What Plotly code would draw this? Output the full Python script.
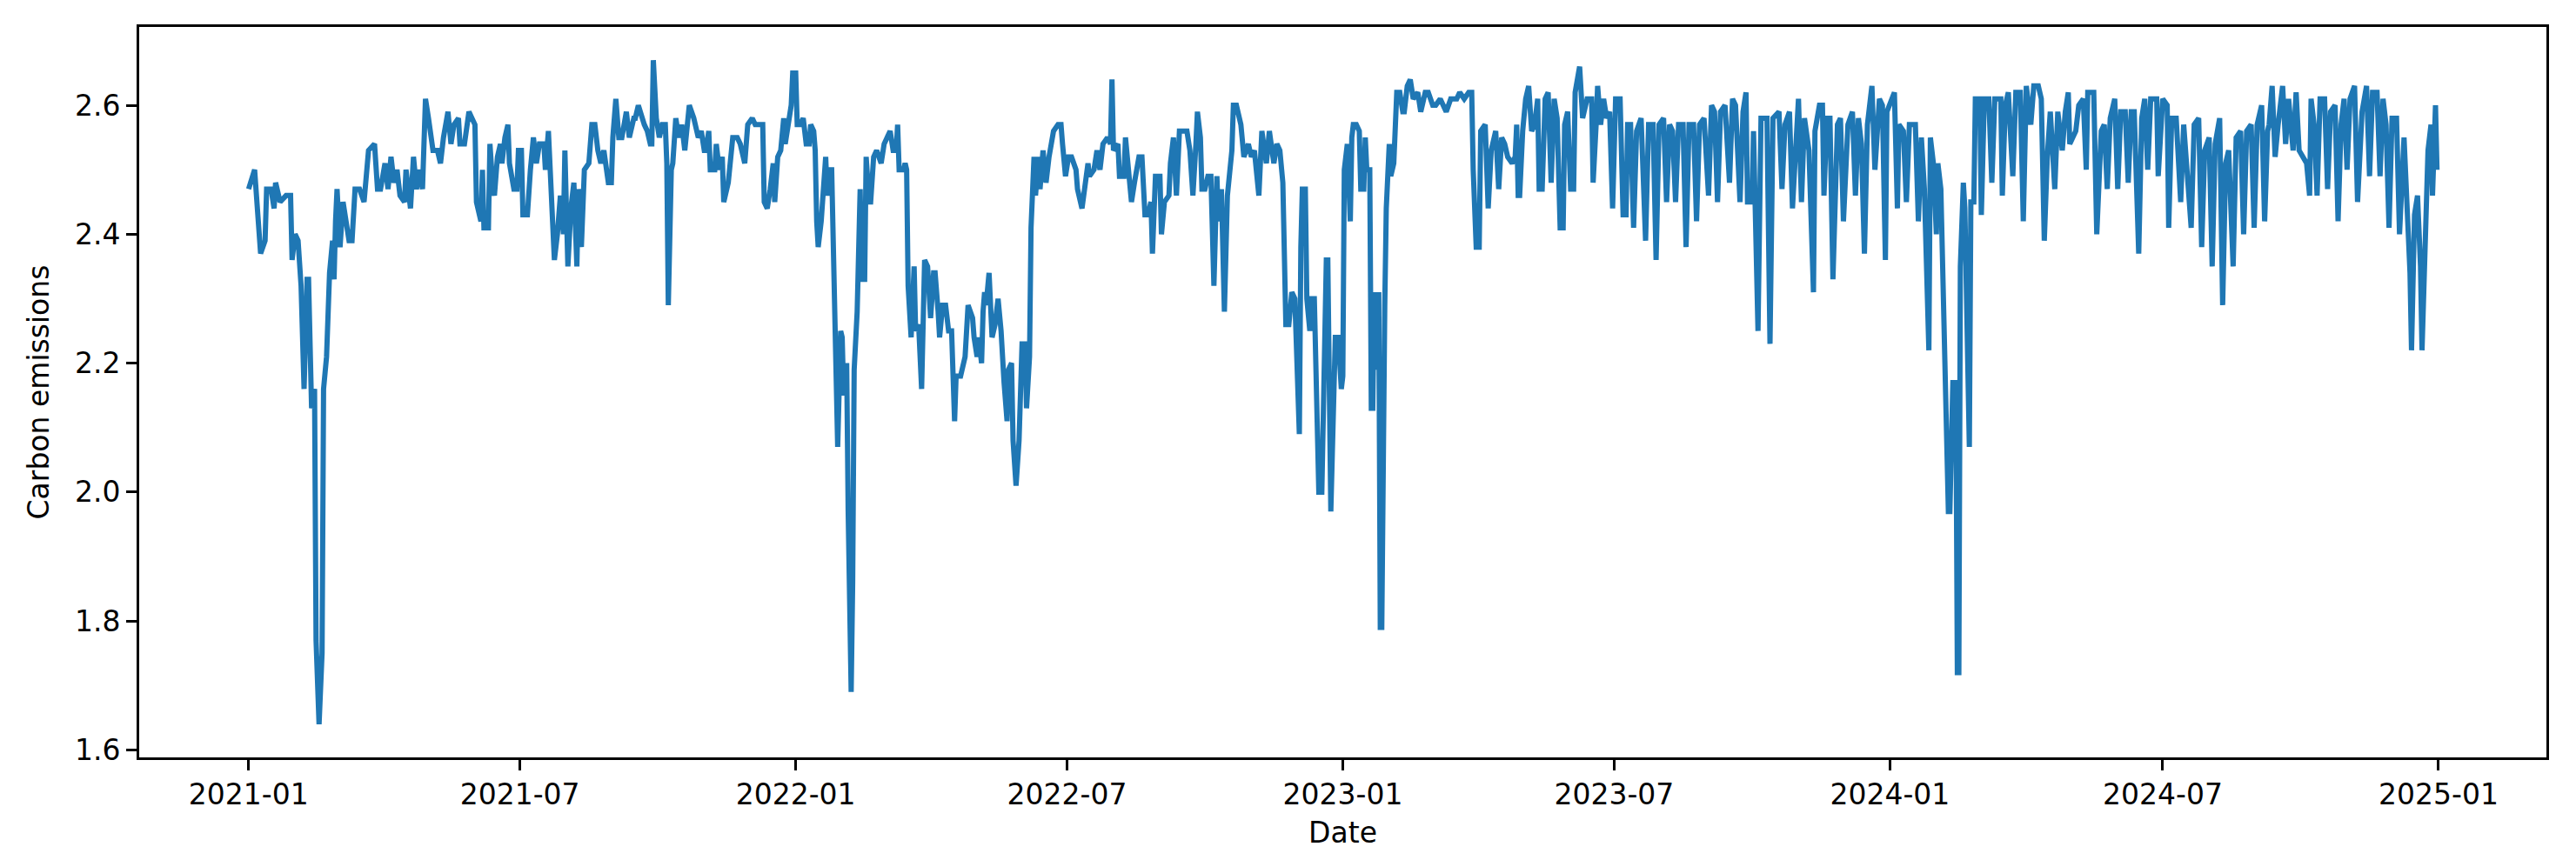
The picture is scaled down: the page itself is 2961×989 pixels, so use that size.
import pandas as pd
import plotly.graph_objects as go

START = "2021-01-01"

# Daily carbon emissions at its turning points.
# day_* = days since START, co2_* = value on that day.
day_2021h1 = [0, 4, 8, 11, 12, 15, 17, 18, 21, 25, 28, 29, 31, 33, 35, 37, 39, 40, 42, 44,
              45, 47, 49, 50, 52, 54, 56, 57, 58, 59, 61, 63, 65, 67, 69, 71, 74, 77, 80, 83,
              84, 86, 88, 91, 93, 95, 97, 99, 101, 104, 105, 108, 110, 112, 114, 116, 118, 120, 123, 126,
              128, 130, 133, 135, 137, 140, 141, 144, 147, 149, 151, 152, 155, 156, 157, 160, 161, 163, 164, 166,
              168, 169, 171, 173, 174, 177, 179, 180, 182, 183]
co2_2021h1 = [2.47, 2.50, 2.37, 2.39, 2.47, 2.47, 2.44, 2.48, 2.45, 2.46, 2.46, 2.36, 2.40, 2.39, 2.32, 2.16, 2.33, 2.33, 2.13, 2.16,
              1.77, 1.64, 1.75, 2.16, 2.21, 2.34, 2.39, 2.33, 2.42, 2.47, 2.38, 2.45, 2.42, 2.39, 2.39, 2.47, 2.47, 2.45, 2.53, 2.54,
              2.54, 2.47, 2.47, 2.51, 2.47, 2.52, 2.48, 2.50, 2.46, 2.45, 2.50, 2.44, 2.52, 2.47, 2.50, 2.47, 2.61, 2.58, 2.53, 2.53,
              2.51, 2.55, 2.59, 2.54, 2.57, 2.58, 2.54, 2.54, 2.59, 2.58, 2.57, 2.45, 2.42, 2.50, 2.41, 2.41, 2.54, 2.47, 2.46, 2.52,
              2.54, 2.51, 2.55, 2.57, 2.51, 2.47, 2.47, 2.53, 2.53, 2.43]

day_2021h2 = [184, 186, 188, 190, 192, 194, 197, 198, 200, 201, 202, 204, 206, 208, 210, 211, 213, 215, 217, 219,
              220, 222, 224, 227, 229, 231, 233, 235, 237, 240, 242, 243, 245, 247, 249, 252, 254, 257, 258, 260,
              264, 266, 268, 269, 270, 272, 274, 276, 278, 279, 280, 282, 283, 285, 287, 289, 291, 293, 294, 297,
              300, 302, 304, 305, 307, 308, 311, 312, 314, 316, 317, 320, 321, 323, 326, 328, 330, 331, 333, 336,
              338, 341, 343, 344, 346, 348, 350, 351, 353, 355, 357, 358, 360, 362, 363, 365]
co2_2021h2 = [2.43, 2.43, 2.50, 2.55, 2.51, 2.54, 2.54, 2.50, 2.56, 2.50, 2.46, 2.36, 2.40, 2.46, 2.40, 2.53, 2.35, 2.44, 2.48, 2.35,
              2.47, 2.38, 2.50, 2.51, 2.57, 2.57, 2.53, 2.51, 2.53, 2.48, 2.48, 2.55, 2.61, 2.55, 2.55, 2.59, 2.55, 2.58, 2.58, 2.60,
              2.57, 2.56, 2.54, 2.54, 2.67, 2.58, 2.55, 2.57, 2.57, 2.51, 2.29, 2.50, 2.51, 2.58, 2.55, 2.57, 2.53, 2.57, 2.60, 2.58,
              2.55, 2.56, 2.53, 2.53, 2.56, 2.50, 2.50, 2.54, 2.50, 2.52, 2.45, 2.48, 2.50, 2.55, 2.55, 2.54, 2.52, 2.51, 2.57, 2.58,
              2.57, 2.57, 2.57, 2.45, 2.44, 2.47, 2.51, 2.45, 2.52, 2.53, 2.58, 2.54, 2.57, 2.60, 2.65, 2.65]

day_2022h1 = [366, 368, 370, 372, 374, 375, 377, 378, 379, 380, 382, 384, 385, 386, 388, 389, 391, 393, 395, 396,
              397, 399, 400, 402, 403, 404, 406, 408, 409, 411, 412, 414, 415, 417, 419, 422, 424, 428, 430, 432,
              433, 434, 437, 438, 439, 440, 442, 444, 445, 447, 449, 451, 453, 455, 457, 458, 460, 461, 463, 465,
              467, 469, 471, 472, 475, 478, 480, 483, 484, 486, 487, 489, 490, 491, 492, 494, 496, 498, 500, 502,
              504, 506, 507, 509, 510, 512, 514, 516, 518, 519, 521, 522, 524, 525, 527, 528, 530, 532, 534, 537,
              540, 542, 543, 545, 547]
co2_2022h1 = [2.57, 2.57, 2.58, 2.54, 2.54, 2.57, 2.56, 2.53, 2.42, 2.38, 2.42, 2.51, 2.52, 2.46, 2.50, 2.50, 2.24, 2.07, 2.25, 2.24,
              2.15, 2.20, 1.97, 1.69, 1.86, 2.19, 2.28, 2.47, 2.33, 2.33, 2.52, 2.45, 2.45, 2.52, 2.53, 2.51, 2.54, 2.56, 2.53, 2.53,
              2.57, 2.50, 2.50, 2.51, 2.50, 2.32, 2.24, 2.35, 2.25, 2.26, 2.16, 2.36, 2.35, 2.27, 2.34, 2.34, 2.28, 2.24, 2.29, 2.29,
              2.25, 2.25, 2.11, 2.18, 2.18, 2.21, 2.29, 2.27, 2.24, 2.21, 2.24, 2.20, 2.28, 2.31, 2.29, 2.34, 2.24, 2.26, 2.30, 2.25,
              2.17, 2.11, 2.19, 2.20, 2.08, 2.01, 2.08, 2.23, 2.23, 2.13, 2.21, 2.41, 2.52, 2.46, 2.52, 2.47, 2.53, 2.48, 2.52, 2.56,
              2.57, 2.57, 2.54, 2.49, 2.52]

day_2022h2 = [549, 552, 553, 556, 558, 560, 561, 564, 566, 568, 570, 573, 575, 576, 577, 580, 581, 584, 585, 587,
              588, 589, 591, 594, 596, 598, 600, 602, 603, 605, 608, 609, 611, 614, 615, 617, 619, 621, 623, 626,
              628, 630, 632, 633, 635, 636, 638, 640, 642, 644, 646, 647, 649, 651, 653, 656, 657, 659, 662, 664,
              667, 669, 671, 674, 676, 679, 681, 684, 686, 688, 690, 692, 694, 696, 698, 700, 701, 702, 703, 705,
              706, 708, 709, 711, 712, 714, 716, 718, 719, 720, 721, 722, 723, 725, 727, 729, 730, 731, 733, 735,
              736, 737]
co2_2022h2 = [2.52, 2.50, 2.47, 2.44, 2.47, 2.51, 2.49, 2.50, 2.53, 2.50, 2.54, 2.55, 2.54, 2.64, 2.53, 2.54, 2.49, 2.49, 2.55, 2.50,
              2.49, 2.45, 2.48, 2.52, 2.52, 2.43, 2.43, 2.45, 2.37, 2.49, 2.49, 2.40, 2.45, 2.46, 2.51, 2.55, 2.46, 2.56, 2.56, 2.56,
              2.53, 2.46, 2.54, 2.59, 2.55, 2.47, 2.47, 2.49, 2.49, 2.32, 2.49, 2.42, 2.47, 2.28, 2.46, 2.53, 2.60, 2.60, 2.57, 2.52,
              2.54, 2.52, 2.53, 2.46, 2.56, 2.51, 2.56, 2.51, 2.54, 2.53, 2.48, 2.26, 2.26, 2.31, 2.30, 2.15, 2.09, 2.38, 2.47, 2.47,
              2.30, 2.25, 2.30, 2.30, 2.21, 2.00, 2.00, 2.21, 2.36, 2.36, 2.08, 1.97, 2.06, 2.24, 2.24, 2.16, 2.18, 2.50, 2.54, 2.42,
              2.55, 2.57]

day_2023h1 = [739, 741, 742, 744, 745, 746, 748, 749, 750, 751, 753, 754, 755, 756, 758, 759, 761, 762, 764, 766,
              768, 770, 771, 773, 775, 777, 780, 782, 785, 787, 790, 792, 795, 799, 802, 806, 808, 811, 814, 816,
              817, 819, 821, 822, 825, 827, 829, 832, 834, 836, 838, 840, 843, 845, 846, 847, 848, 850, 852, 854,
              856, 858, 860, 861, 863, 865, 867, 869, 871, 873, 875, 877, 878, 880, 882, 884, 885, 887, 888, 890,
              893, 896, 897, 899, 900, 902, 904, 906, 908, 910, 912, 915, 917, 919, 920, 922]
co2_2023h1 = [2.57, 2.56, 2.47, 2.47, 2.55, 2.50, 2.50, 2.13, 2.13, 2.31, 2.19, 2.31, 1.79, 1.79, 2.29, 2.44, 2.54, 2.49, 2.51, 2.62,
              2.62, 2.59, 2.59, 2.63, 2.64, 2.61, 2.62, 2.59, 2.62, 2.62, 2.60, 2.60, 2.61, 2.59, 2.61, 2.61, 2.62, 2.61, 2.62, 2.62,
              2.50, 2.38, 2.38, 2.56, 2.57, 2.44, 2.53, 2.56, 2.47, 2.55, 2.54, 2.52, 2.51, 2.52, 2.57, 2.46, 2.46, 2.56, 2.61, 2.63,
              2.56, 2.57, 2.61, 2.47, 2.47, 2.61, 2.62, 2.48, 2.61, 2.58, 2.41, 2.41, 2.57, 2.59, 2.47, 2.47, 2.62, 2.65, 2.66, 2.58,
              2.61, 2.61, 2.48, 2.57, 2.63, 2.57, 2.61, 2.58, 2.59, 2.44, 2.61, 2.61, 2.43, 2.43, 2.57, 2.57]

day_2023h2 = [924, 926, 929, 932, 933, 934, 937, 939, 941, 944, 946, 948, 950, 952, 954, 957, 959, 961, 964, 966,
              968, 971, 974, 976, 978, 980, 982, 985, 988, 990, 992, 995, 997, 999, 1000, 1003, 1004, 1007, 1009, 1011,
              1013, 1015, 1017, 1021, 1023, 1025, 1028, 1030, 1033, 1034, 1036, 1038, 1041, 1044, 1045, 1048, 1050, 1051, 1053, 1055,
              1057, 1060, 1062, 1064, 1067, 1070, 1072, 1074, 1076, 1078, 1080, 1083, 1085, 1088, 1090, 1092, 1093, 1098, 1100, 1101,
              1104, 1106, 1108]
co2_2023h2 = [2.41, 2.56, 2.58, 2.39, 2.50, 2.57, 2.57, 2.36, 2.57, 2.58, 2.45, 2.57, 2.56, 2.45, 2.57, 2.57, 2.38, 2.57, 2.57, 2.42,
              2.57, 2.58, 2.46, 2.60, 2.59, 2.45, 2.59, 2.60, 2.48, 2.61, 2.60, 2.45, 2.59, 2.62, 2.45, 2.45, 2.56, 2.25, 2.58, 2.58,
              2.58, 2.23, 2.58, 2.59, 2.47, 2.57, 2.59, 2.44, 2.59, 2.61, 2.45, 2.58, 2.53, 2.31, 2.56, 2.60, 2.60, 2.46, 2.58, 2.58,
              2.33, 2.57, 2.58, 2.42, 2.57, 2.59, 2.46, 2.58, 2.54, 2.37, 2.57, 2.63, 2.50, 2.61, 2.60, 2.36, 2.59, 2.62, 2.44, 2.57,
              2.56, 2.45, 2.57]

day_2024h1 = [1112, 1114, 1116, 1118, 1121, 1122, 1124, 1126, 1127, 1129, 1132, 1134, 1135, 1137, 1139, 1140, 1141, 1142, 1144, 1145,
              1148, 1149, 1151, 1152, 1155, 1156, 1158, 1161, 1163, 1165, 1169, 1170, 1172, 1174, 1177, 1179, 1182, 1184, 1186, 1189,
              1191, 1194, 1196, 1198, 1200, 1202, 1205, 1207, 1210, 1212, 1214, 1215, 1219, 1221, 1224, 1226, 1227, 1231, 1233, 1236,
              1238, 1240, 1242, 1245, 1247, 1249, 1252, 1254, 1256, 1258, 1261, 1263, 1265, 1267, 1269, 1273, 1274, 1277, 1280, 1281,
              1283, 1286, 1289]
co2_2024h1 = [2.57, 2.42, 2.55, 2.47, 2.22, 2.55, 2.51, 2.40, 2.51, 2.47, 2.13, 1.97, 1.97, 2.17, 2.17, 1.72, 1.72, 2.35, 2.48, 2.44,
              2.07, 2.45, 2.45, 2.61, 2.61, 2.43, 2.61, 2.61, 2.48, 2.61, 2.61, 2.46, 2.60, 2.62, 2.49, 2.62, 2.62, 2.42, 2.63, 2.57,
              2.63, 2.63, 2.61, 2.39, 2.52, 2.59, 2.47, 2.59, 2.53, 2.59, 2.62, 2.54, 2.56, 2.60, 2.61, 2.50, 2.62, 2.62, 2.40, 2.56,
              2.57, 2.47, 2.58, 2.61, 2.47, 2.59, 2.59, 2.48, 2.59, 2.59, 2.37, 2.58, 2.61, 2.50, 2.61, 2.61, 2.49, 2.61, 2.60, 2.41,
              2.58, 2.58, 2.45]

day_2024h2 = [1291, 1296, 1298, 1301, 1303, 1305, 1308, 1310, 1312, 1315, 1317, 1319, 1321, 1324, 1326, 1329, 1331, 1333, 1336, 1338,
              1340, 1343, 1345, 1347, 1348, 1350, 1352, 1354, 1357, 1359, 1361, 1364, 1366, 1368, 1371, 1373, 1375, 1376, 1378, 1380,
              1382, 1385, 1387, 1389, 1392, 1394, 1396, 1398, 1400, 1402, 1405, 1407, 1410, 1413, 1415, 1417, 1420, 1422, 1424, 1426,
              1428, 1430, 1433, 1435, 1438, 1440, 1442, 1443, 1445, 1447, 1449, 1450, 1452, 1454, 1456, 1457, 1459, 1460]
co2_2024h2 = [2.57, 2.41, 2.57, 2.58, 2.38, 2.53, 2.55, 2.35, 2.54, 2.58, 2.29, 2.51, 2.53, 2.35, 2.55, 2.56, 2.40, 2.56, 2.57, 2.41,
              2.57, 2.60, 2.42, 2.56, 2.57, 2.63, 2.52, 2.57, 2.63, 2.54, 2.61, 2.53, 2.62, 2.53, 2.52, 2.51, 2.46, 2.61, 2.57, 2.46,
              2.61, 2.61, 2.47, 2.59, 2.60, 2.42, 2.57, 2.61, 2.50, 2.61, 2.63, 2.45, 2.59, 2.63, 2.49, 2.62, 2.62, 2.49, 2.61, 2.57,
              2.41, 2.58, 2.58, 2.40, 2.55, 2.44, 2.34, 2.22, 2.43, 2.46, 2.35, 2.22, 2.37, 2.53, 2.57, 2.46, 2.60, 2.50]

tick_dates = ["2021-01-01", "2021-07-01", "2022-01-01", "2022-07-01", "2023-01-01",
              "2023-07-01", "2024-01-01", "2024-07-01", "2025-01-01"]
y_ticks = [1.6, 1.8, 2.0, 2.2, 2.4, 2.6]

segments = [
    (day_2021h1, co2_2021h1), (day_2021h2, co2_2021h2),
    (day_2022h1, co2_2022h1), (day_2022h2, co2_2022h2),
    (day_2023h1, co2_2023h1), (day_2023h2, co2_2023h2),
    (day_2024h1, co2_2024h1), (day_2024h2, co2_2024h2),
]
frames = []
for days, vals in segments:
    assert len(days) == len(vals), (days[0], len(days), len(vals))
    frames.append(pd.DataFrame({"day": days, "co2": vals}))
df = pd.concat(frames, ignore_index=True).drop_duplicates("day").sort_values("day")
df["date"] = pd.Timestamp(START) + pd.to_timedelta(df["day"], unit="D")

# matplotlib-style 5% padding on both axes
span = df["date"].max() - df["date"].min()
x_range = [df["date"].min() - span * 0.05, df["date"].max() + span * 0.05]
y_span = df["co2"].max() - df["co2"].min()
y_range = [df["co2"].min() - y_span * 0.05, df["co2"].max() + y_span * 0.05]

FONT = "DejaVu Sans"

fig = go.Figure()
fig.add_trace(go.Scatter(
    x=df["date"],
    y=df["co2"],
    mode="lines",
    line={"color": "#1f77b4", "width": 6},
    showlegend=False,
))

axis_common = {
    "showline": True,
    "mirror": True,
    "linecolor": "black",
    "linewidth": 2.7,
    "ticks": "outside",
    "ticklen": 12,
    "tickwidth": 2.7,
    "tickcolor": "black",
    "showgrid": False,
    "zeroline": False,
    "automargin": False,
    "tickfont": {"family": FONT, "size": 33, "color": "black"},
}

fig.update_layout(
    width=2961,
    height=989,
    margin={"l": 160, "r": 34, "t": 31, "b": 118},
    paper_bgcolor="white",
    plot_bgcolor="white",
    font={"family": FONT, "size": 33, "color": "black"},
    xaxis={
        **axis_common,
        "type": "date",
        "range": x_range,
        "tickvals": tick_dates,
        "tickformat": "%Y-%m",
        "title": {"text": "Date", "font": {"family": FONT, "size": 33}, "standoff": 14},
    },
    yaxis={
        **axis_common,
        "range": y_range,
        "tickvals": y_ticks,
        "tickformat": ".1f",
        "title": {"text": "Carbon emissions", "font": {"family": FONT, "size": 33}, "standoff": 20},
    },
)

# the page's default 8px body margin would push the figure off the window
fig.write_html(
    "out.html",
    config={"displayModeBar": False},
    post_script="document.body.style.margin = '0';",
)
